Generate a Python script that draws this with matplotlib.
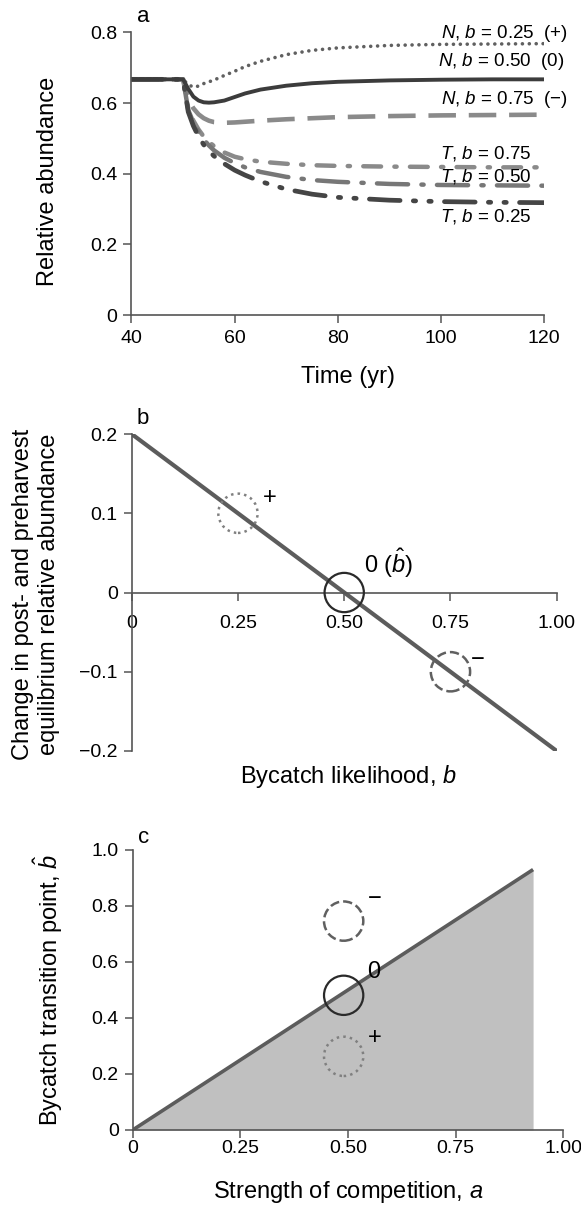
import matplotlib
matplotlib.use("Agg")
import matplotlib.pyplot as plt

plt.rcParams['font.family'] = ['Liberation Sans', 'DejaVu Sans']
plt.rcParams['mathtext.fontset'] = 'custom'
plt.rcParams['mathtext.rm'] = 'Liberation Sans'
plt.rcParams['mathtext.it'] = 'Liberation Sans:italic'

# ---- data, panel a: relative abundance through time ----
years = [40, 50, 51, 52, 53, 54, 55, 56, 58, 60, 62, 65, 70, 75, 80, 90, 100, 110, 120]
N_b025 = [0.667, 0.667, 0.652, 0.645, 0.648, 0.655, 0.660, 0.665, 0.678, 0.690, 0.703,
          0.718, 0.737, 0.749, 0.756, 0.763, 0.766, 0.767, 0.768]
N_b050 = [0.667, 0.667, 0.640, 0.618, 0.607, 0.602, 0.601, 0.602, 0.607, 0.617, 0.627,
          0.638, 0.649, 0.656, 0.660, 0.664, 0.666, 0.667, 0.667]
N_b075 = [0.667, 0.667, 0.610, 0.585, 0.568, 0.557, 0.550, 0.546, 0.544, 0.545, 0.547,
          0.550, 0.554, 0.557, 0.560, 0.563, 0.565, 0.566, 0.567]
T_b075 = [0.667, 0.667, 0.585, 0.550, 0.525, 0.505, 0.490, 0.478, 0.460, 0.448, 0.441,
          0.434, 0.428, 0.424, 0.422, 0.420, 0.419, 0.418, 0.418]
T_b050 = [0.667, 0.667, 0.580, 0.545, 0.518, 0.497, 0.480, 0.466, 0.445, 0.430, 0.418,
          0.405, 0.391, 0.382, 0.377, 0.371, 0.368, 0.367, 0.366]
T_b025 = [0.667, 0.667, 0.575, 0.535, 0.505, 0.482, 0.464, 0.450, 0.428, 0.410, 0.396,
          0.378, 0.356, 0.342, 0.333, 0.325, 0.321, 0.319, 0.318]

# ---- data, panel b: change in equilibrium vs bycatch likelihood ----
b_vals = [0.0, 1.0]
change_vals = [0.2, -0.2]
b_marks = [0.25, 0.50, 0.75]
change_marks = [0.10, 0.0, -0.10]

# ---- data, panel c: transition point vs competition ----
a_vals = [0.0, 0.93]
bhat_vals = [0.0, 0.93]
a_marks = [0.49, 0.49, 0.49]
bhat_marks = [0.263, 0.481, 0.746]

mark_colors = ['#808080', '#2a2a2a', '#606060']
mark_styles = [':', '-', '--']

spine_col = '#555555'
tick_fs = 14
lab_fs = 17
ann_fs = 13.5
sign_fs = 17

fig = plt.figure(figsize=(5.81, 12.07), dpi=100)
ax1 = fig.add_axes([0.2263, 0.7390, 0.7105, 0.2342])
ax2 = fig.add_axes([0.2267, 0.3778, 0.7315, 0.2626])
ax3 = fig.add_axes([0.2284, 0.0638, 0.7410, 0.2320])

for ax in (ax1, ax2, ax3):
    for s in ('top', 'right'):
        ax.spines[s].set_visible(False)
    for s in ('left', 'bottom'):
        ax.spines[s].set_color(spine_col)
        ax.spines[s].set_linewidth(1.2)
    ax.tick_params(colors=spine_col, labelcolor='black', labelsize=tick_fs,
                   length=6, width=1.1)
    ax.set_facecolor('none')

# ---- panel a ----
ax1.plot(years, N_b075, color='#8a8a8a', lw=3.3, dashes=(6, 2.8), dash_capstyle='butt')
ax1.plot(years, T_b075, color='#8a8a8a', lw=3.2, dashes=(4, 3, 0.5, 3), dash_capstyle='round')
ax1.plot(years, T_b050, color='#777777', lw=3.2, dashes=(7, 3, 0.5, 3), dash_capstyle='round')
ax1.plot(years, T_b025, color='#454545', lw=3.4,
         dashes=(6.5, 2.8, 0.5, 2.8, 0.5, 2.8), dash_capstyle='round')
ax1.plot(years, N_b025, color='#606060', lw=2.6, dashes=(0.01, 1.9), dash_capstyle='round')
ax1.plot(years, N_b050, color='#3c3c3c', lw=2.8)

ax1.set_xlim(40, 120)
ax1.set_ylim(0, 0.8)
ax1.set_xticks([40, 60, 80, 100, 120])
ax1.set_yticks([0, 0.2, 0.4, 0.6, 0.8], ['0', '0.2', '0.4', '0.6', '0.8'])
ax1.tick_params(axis='x', pad=5)
ax1.tick_params(axis='y', pad=4)

lab_kw = dict(fontsize=ann_fs, ha='right', va='center', clip_on=False)
ax1.text(124.6, 0.797, '$N$, $b$ = 0.25  (+)', **lab_kw)
ax1.text(124.0, 0.717, '$N$, $b$ = 0.50  (0)', **lab_kw)
ax1.text(124.6, 0.610, '$N$, $b$ = 0.75  (\u2212)', **lab_kw)
ax1.text(117.6, 0.457, '$T$, $b$ = 0.75', **lab_kw)
ax1.text(117.6, 0.391, '$T$, $b$ = 0.50', **lab_kw)
ax1.text(117.6, 0.280, '$T$, $b$ = 0.25', **lab_kw)

ax1.set_xlabel('Time (yr)', fontsize=lab_fs, va='center')
ax1.xaxis.set_label_coords(0.5235, -0.219)
ax1.set_ylabel('Relative abundance', fontsize=lab_fs, va='center')
ax1.yaxis.set_label_coords(-0.2015, 0.474)
ax1.text(0.028, 1.055, 'a', transform=ax1.transAxes, fontsize=16, ha='center', va='center')

# ---- panel b ----
ax2.plot(b_vals, change_vals, color='#5c5c5c', lw=3.0, solid_capstyle='butt')
for x, y, c, ls in zip(b_marks, change_marks, mark_colors, mark_styles):
    ax2.scatter([x], [y], s=800, facecolors='none', edgecolors=c, linestyles=ls,
                linewidths=1.8 if ls != '-' else 1.6, zorder=3, clip_on=False)
ax2.text(0.324, 0.119, '+', fontsize=sign_fs, ha='center', va='center')
ax2.text(0.546, 0.037, '0 ($\\hat{b}$)', fontsize=sign_fs, ha='left', va='center')
ax2.text(0.814, -0.085, '\u2212', fontsize=sign_fs, ha='center', va='center')

ax2.set_xlim(0, 1.0)
ax2.set_ylim(-0.2, 0.2)
ax2.spines['bottom'].set_position(('data', 0))
ax2.set_xticks([0, 0.25, 0.5, 0.75, 1.0], ['0', '0.25', '0.50', '0.75', '1.00'])
ax2.set_yticks([-0.2, -0.1, 0, 0.1, 0.2], ['\u22120.2', '\u22120.1', '0', '0.1', '0.2'])
ax2.tick_params(axis='x', pad=10)
ax2.tick_params(axis='y', pad=4)
ax2.set_xlabel('Bycatch likelihood, $b$', fontsize=lab_fs, va='center')
ax2.xaxis.set_label_coords(0.51, -0.082)
ax2.set_ylabel('Change in post- and preharvest\nequilibrium relative abundance',
               fontsize=lab_fs, va='center', linespacing=1.2)
ax2.yaxis.set_label_coords(-0.225, 0.495)
ax2.text(0.025, 1.05, 'b', transform=ax2.transAxes, fontsize=16, ha='center', va='center')

# ---- panel c ----
ax3.fill_between(a_vals, bhat_vals, 0, color='#c0c0c0', lw=0)
ax3.plot(a_vals, bhat_vals, color='#5c5c5c', lw=2.6, solid_capstyle='butt')
for x, y, c, ls in zip(a_marks, bhat_marks, mark_colors, mark_styles):
    ax3.scatter([x], [y], s=800, facecolors='none', edgecolors=c, linestyles=ls,
                linewidths=1.8 if ls != '-' else 1.6, zorder=3, clip_on=False)
ax3.text(0.562, 0.327, '+', fontsize=sign_fs, ha='center', va='center')
ax3.text(0.560, 0.565, '0', fontsize=sign_fs, ha='center', va='center')
ax3.text(0.562, 0.824, '\u2212', fontsize=sign_fs, ha='center', va='center')

ax3.set_xlim(0, 1.0)
ax3.set_ylim(0, 1.0)
ax3.set_xticks([0, 0.25, 0.5, 0.75, 1.0], ['0', '0.25', '0.50', '0.75', '1.00'])
ax3.set_yticks([0, 0.2, 0.4, 0.6, 0.8, 1.0], ['0', '0.2', '0.4', '0.6', '0.8', '1.0'])
ax3.tick_params(axis='x', pad=1)
ax3.tick_params(axis='y', pad=4)
ax3.set_xlabel('Strength of competition, $a$', fontsize=lab_fs, va='center')
ax3.xaxis.set_label_coords(0.501, -0.222)
ax3.set_ylabel('Bycatch transition point, $\\hat{b}$', fontsize=lab_fs, va='center')
ax3.yaxis.set_label_coords(-0.196, 0.5)
ax3.text(0.025, 1.045, 'c', transform=ax3.transAxes, fontsize=16, ha='center', va='center')

fig.savefig('out.png', dpi=100)
